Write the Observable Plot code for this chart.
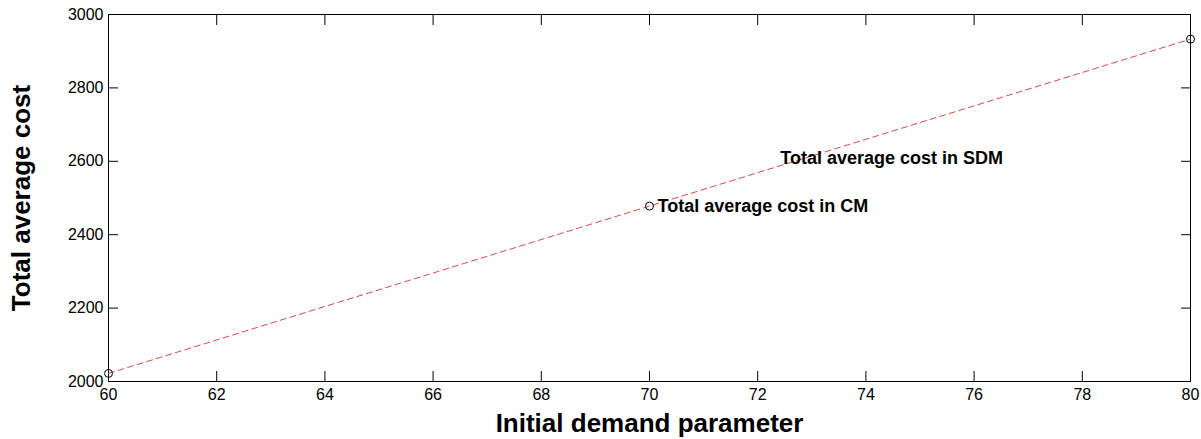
<!DOCTYPE html>
<html><head><meta charset="utf-8">
<script src="https://cdn.jsdelivr.net/npm/d3@7"></script>
<script src="https://cdn.jsdelivr.net/npm/@observablehq/plot@0.6"></script>
<style>body{margin:0;background:#fff}</style>
</head><body><div id="chart"></div>
<script>
const demand = [60, 70, 80];
const cost = [2022, 2478, 2933];
const xTicks = [60, 62, 64, 66, 68, 70, 72, 74, 76, 78, 80];
const yTicks = [2000, 2200, 2400, 2600, 2800, 3000];
const noteX = [70, 72.27];
const noteY = [2478, 2608];
const noteText = ["Total average cost in CM", "Total average cost in SDM"];
const xTitle = "Initial demand parameter";
const yTitle = "Total average cost";

const data = demand.map((d, i) => ({demand: d, cost: cost[i]}));
const notes = noteText.map((t, i) => ({x: noteX[i], y: noteY[i], text: t}));

const chart = Plot.plot({
  width: 1201,
  height: 439,
  marginLeft: 108,
  marginRight: 11,
  marginTop: 14,
  marginBottom: 58,
  style: {fontFamily: "'Liberation Sans', Arial, sans-serif", fontSize: "16px", color: "black", background: "white"},
  x: {domain: [60, 80]},
  y: {domain: [2000, 3000]},
  marks: [
    Plot.frame({stroke: "black"}),
    Plot.axisX({ticks: xTicks, anchor: "bottom", tickSize: -10, tickPadding: 17, tickFormat: d => String(d), label: null, fontSize: 16}),
    Plot.axisX({ticks: xTicks, anchor: "top", tickSize: -10, tickFormat: () => "", label: null}),
    Plot.axisY({ticks: yTicks, anchor: "left", tickSize: -10, tickPadding: 15, tickFormat: d => String(d), label: null, fontSize: 16}),
    Plot.axisY({ticks: yTicks, anchor: "right", tickSize: -10, tickFormat: () => "", label: null}),
    Plot.line(data, {x: "demand", y: "cost", stroke: "#d94a4a", strokeWidth: 1, strokeDasharray: "6,4"}),
    Plot.dot(data, {x: "demand", y: "cost", r: 4, stroke: "black", fill: "none", strokeWidth: 1}),
    Plot.text(notes, {x: "x", y: "y", text: "text", textAnchor: "start", dx: 8, fontWeight: "bold", fontSize: 18, fill: "black"}),
    Plot.text([xTitle], {frameAnchor: "bottom", text: d => d, dy: 42, textAnchor: "middle", fontWeight: "bold", fontSize: 26, fill: "black", lineAnchor: "middle"}),
    Plot.text([yTitle], {frameAnchor: "left", text: d => d, dx: -87, rotate: -90, textAnchor: "middle", fontWeight: "bold", fontSize: 26, fill: "black", lineAnchor: "middle"})
  ]
});
document.getElementById("chart").appendChild(chart);
</script>
</body></html>
